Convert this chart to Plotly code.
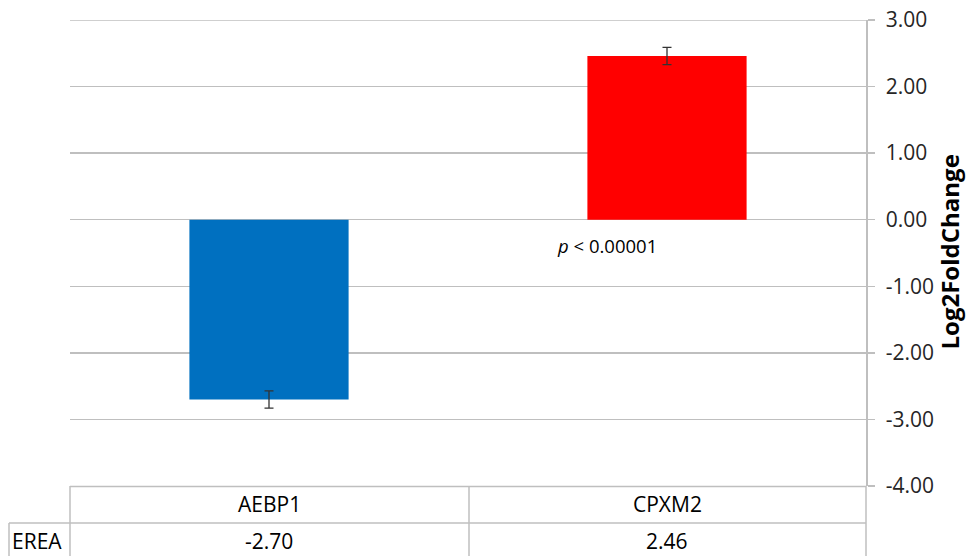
import plotly.graph_objects as go

categories = ["AEBP1", "CPXM2"]
series_name = "EREA"
values = [-2.70, 2.46]
errors = [0.13, 0.13]
bar_colors = ["#0070C0", "#FF0000"]
y_ticks = [3, 2, 1, 0, -1, -2, -3, -4]
y_tick_labels = [f"{v:.2f}" for v in y_ticks]
annotation_text = "<i>p</i> < 0.00001"
y_title = "Log2FoldChange"

W, H = 967, 556
PL, PR, PT, PB = 70, 866, 20, 486          # plot box in pixels
ML, MT, MR, MB = PL, PT, W - PR, H - PB
PW, PH = PR - PL, PB - PT

def px(x):
    return (x - PL) / PW

def py(y):
    return (PB - y) / PH

FONT = "Open Sans"
LINE = "#BFBFBF"
TXT = "#000000"

fig = go.Figure()
fig.add_trace(go.Bar(
    x=categories, y=values, width=0.4,
    marker=dict(color=bar_colors, line=dict(width=0)),
    error_y=dict(type="data", array=errors, visible=True,
                 color="#333333", thickness=1.3, width=4.5),
    showlegend=False, hoverinfo="skip",
))

fig.update_layout(
    width=W, height=H,
    margin=dict(l=ML, r=MR, t=MT, b=MB, autoexpand=False),
    paper_bgcolor="white", plot_bgcolor="white",
    xaxis=dict(range=[-0.5, 1.5], showticklabels=False, showgrid=False,
               zeroline=False, showline=False, ticks=""),
    yaxis=dict(side="right", range=[min(y_ticks), max(y_ticks)],
               tickvals=y_ticks, ticktext=y_tick_labels, automargin=False,
               ticklabeloverflow="allow",
               ticks="outside", ticklen=7, ticklabelstandoff=7,
               tickcolor=LINE, tickwidth=1.5,
               showgrid=True, gridcolor=LINE, gridwidth=1.5,
               zeroline=False, showline=True, linecolor=LINE, linewidth=1.5,
               tickfont=dict(family=FONT, size=21, color="#262626")),
    font=dict(family=FONT),
)

L = dict(color=LINE, width=1.5)
shapes = [
    # top gridline (at the upper range edge)
    dict(type="line", xref="paper", yref="y", x0=0, x1=1,
         y0=max(y_ticks), y1=max(y_ticks), line=L),
    # axis line extended down through the data table
    dict(type="line", xref="paper", yref="paper", x0=1, x1=1,
         y0=py(PB), y1=py(H + 2), line=L),
    # table horizontal lines
    dict(type="line", xref="paper", yref="paper", x0=px(70), x1=1,
         y0=py(486.5), y1=py(486.5), line=L),
    dict(type="line", xref="paper", yref="paper", x0=px(9), x1=1,
         y0=py(523), y1=py(523), line=L),
    # table vertical lines
    dict(type="line", xref="paper", yref="paper", x0=px(70), x1=px(70),
         y0=py(486), y1=py(H + 2), line=L),
    dict(type="line", xref="paper", yref="paper", x0=px(469), x1=px(469),
         y0=py(486), y1=py(H + 2), line=L),
    dict(type="line", xref="paper", yref="paper", x0=px(9), x1=px(9),
         y0=py(523), y1=py(H + 2), line=L),
]
fig.update_layout(shapes=shapes)

tf = dict(family=FONT, size=21, color=TXT)
annotations = []
for i, (c, v) in enumerate(zip(categories, values)):
    annotations.append(dict(x=i, xref="x", y=py(504), yref="paper",
                            xanchor="center", yanchor="middle",
                            text=c, showarrow=False, font=tf))
    annotations.append(dict(x=i, xref="x", y=py(541), yref="paper",
                            xanchor="center", yanchor="middle",
                            text=f"{v:.2f}", showarrow=False, font=tf))
annotations.append(dict(x=px(37), xref="paper", y=py(541), yref="paper",
                        xanchor="center", yanchor="middle",
                        text=series_name, showarrow=False, font=tf))
annotations.append(dict(x=0.85, xref="x", y=-0.39, yref="y",
                        xanchor="center", yanchor="middle",
                        text=annotation_text, showarrow=False,
                        font=dict(family=FONT, size=18.5, color=TXT)))
annotations.append(dict(x=px(949.5), xref="paper", y=py(252), yref="paper",
                        xanchor="center", yanchor="middle",
                        text=f"<b>{y_title}</b>", textangle=-90, showarrow=False,
                        font=dict(family=FONT, size=24, color=TXT)))
fig.update_layout(annotations=annotations)

fig.write_html(
    "out.html",
    config={"displayModeBar": False, "staticPlot": True},
    post_script="document.body.style.margin='0';"
                "document.documentElement.style.overflow='hidden';",
)
